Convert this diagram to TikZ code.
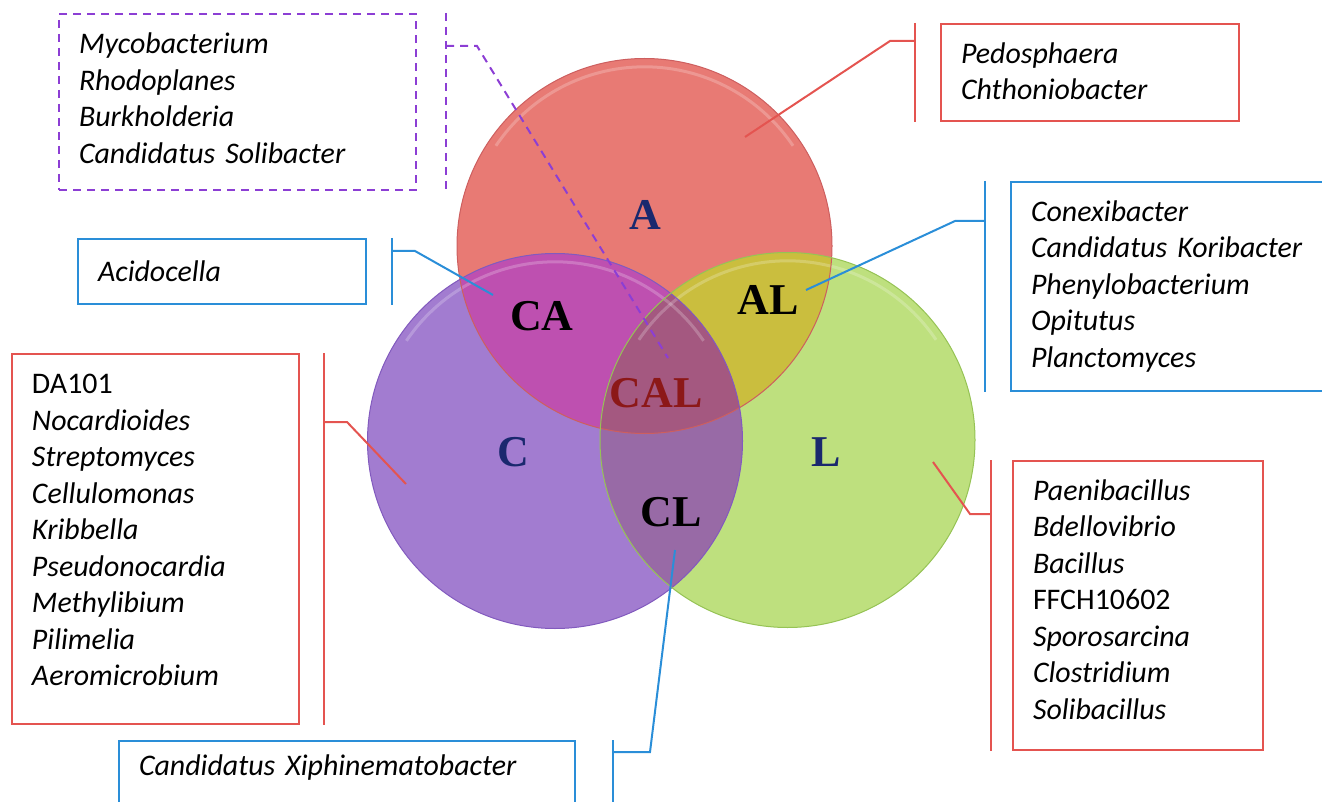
\documentclass[tikz,border=0pt]{standalone}
\usepackage{fontspec}
\setmainfont{Carlito}
\newfontfamily\vennfont{Liberation Serif}
\usetikzlibrary{calc}
\newcommand\lowpad[1]{\rule[-#1]{0pt}{0pt}}
\DeclareRobustCommand\boxfont{\itshape\fontsize{14.95}{18.25}\selectfont\spaceskip=3.6pt\relax}
\definecolor{colA}{RGB}{232,122,116}
\definecolor{colC}{RGB}{162,124,208}
\definecolor{colL}{RGB}{190,224,126}
\definecolor{colCA}{RGB}{190,80,176}
\definecolor{colAL}{RGB}{202,190,62}
\definecolor{colCL}{RGB}{152,106,166}
\definecolor{colCAL}{RGB}{164,88,128}
\definecolor{edgeA}{RGB}{205,95,95}
\definecolor{edgeC}{RGB}{130,90,190}
\definecolor{edgeL}{RGB}{150,195,85}
\definecolor{lnRed}{RGB}{228,84,80}
\definecolor{lnBlue}{RGB}{42,142,216}
\definecolor{lnPurple}{RGB}{140,62,212}
\definecolor{labNavy}{RGB}{26,40,110}
\definecolor{labRed}{RGB}{140,24,24}
\begin{document}
\begin{tikzpicture}[x=0.5pt,y=-0.5pt,
  box/.style={line width=1pt, anchor=north west, align=left, inner xsep=10pt, inner ysep=0pt,
    font=\boxfont},
  redbox/.style={box, draw=lnRed},
  bluebox/.style={box, draw=lnBlue},
  purplebox/.style={box, draw=lnPurple, dash pattern=on 4pt off 3pt},
  redline/.style={draw=lnRed, line width=1pt},
  blueline/.style={draw=lnBlue, line width=1pt},
  purpleline/.style={draw=lnPurple, line width=1pt, dash pattern=on 4pt off 3pt},
  vlab/.style={font=\vennfont\bfseries\fontsize{22}{22}\selectfont, inner sep=0pt},
  rim/.style={white, line width=1.5pt, opacity=0.22}]
\useasboundingbox (0,0) rectangle (1322,802);
\def\R{93.75pt}
% circle centres
\coordinate (oA) at (644.5,246);
\coordinate (oC) at (555,441);
\coordinate (oL) at (787.5,440);
% base fills
\fill[colA] (oA) circle[radius=\R];
\fill[colC] (oC) circle[radius=\R];
\fill[colL] (oL) circle[radius=\R];
\begin{scope}
  \clip (oA) circle[radius=\R];
  \fill[colCA] (oC) circle[radius=\R];
  \fill[colAL] (oL) circle[radius=\R];
\end{scope}
\begin{scope}
  \clip (oC) circle[radius=\R];
  \fill[colCL] (oL) circle[radius=\R];
\end{scope}
\begin{scope}
  \clip (oA) circle[radius=\R];
  \clip (oC) circle[radius=\R];
  \fill[colCAL] (oL) circle[radius=\R];
\end{scope}
% rims
\draw[rim] ($(oA)+(-148.6,-100.2)$) arc[start angle=146, end angle=34, radius=89.6pt];
\draw[rim] ($(oC)+(-148.6,-100.2)$) arc[start angle=146, end angle=34, radius=89.6pt];
\draw[rim] ($(oL)+(-148.6,-100.2)$) arc[start angle=146, end angle=34, radius=89.6pt];
% edges
\draw[edgeA, line width=0.5pt] (oA) circle[radius=\R];
\draw[edgeC, line width=0.5pt] (oC) circle[radius=\R];
\draw[edgeL, line width=0.5pt] (oL) circle[radius=\R];
% region labels
\node[vlab, text=labNavy] (lA) at (645,215) {A};
\node[vlab, text=labNavy] (lC) at (513,452) {C};
\node[vlab, text=labNavy] (lL) at (826,452) {L};
\node[vlab] (lCA) at (542,316) {CA};
\node[vlab] (lAL) at (768,300) {AL};
\node[vlab] (lCL) at (671,512) {CL};
\node[vlab, text=labRed] (lCAL) at (656,393) {CAL};
% end points of connectors
\coordinate (eCAL) at (668,358);
\coordinate (eA) at (745,137);
\coordinate (eCA) at (493,295);
\coordinate (eAL) at (806,290);
\coordinate (eC) at (406,484);
\coordinate (eL) at (933,462);
\coordinate (eCL) at (675,550);
% boxes
\node[purplebox, text width=158.5pt, minimum height=88pt] (b1) at (58,13)
  {Mycobacterium\\Rhodoplanes\\Burkholderia\\Candidatus Solibacter\lowpad{4pt}};
\node[redbox, text width=129pt, minimum height=48.5pt] (b2) at (940,23)
  {Pedosphaera\\Chthoniobacter\lowpad{1.5pt}};
\node[bluebox, text width=124pt, minimum height=32.5pt] (b3) at (77,238)
  {Acidocella};
\node[bluebox, text width=145pt, minimum height=104.5pt] (b4) at (1010,181)
  {Conexibacter\\Candidatus Koribacter\\Phenylobacterium\\Opitutus\\Planctomyces};
\node[redbox, text width=123.5pt, minimum height=185pt] (b5) at (11,353)
  {{\upshape DA101}\\Nocardioides\\Streptomyces\\Cellulomonas\\Kribbella\\Pseudonocardia\\Methylibium\\Pilimelia\\Aeromicrobium\lowpad{9pt}};
\node[redbox, text width=105pt, minimum height=144.5pt] (b6) at (1012,460)
  {Paenibacillus\\Bdellovibrio\\Bacillus\\{\upshape FFCH10602}\\Sporosarcina\\Clostridium\\Solibacillus\lowpad{6pt}};
\node[bluebox, text width=208pt, inner ysep=7pt, text depth=30pt] (b7) at (118,740)
  {Candidatus Xiphinematobacter};
% connectors
\draw[purpleline] ($(b1.north east)+(29,0)$) -- ($(b1.south east)+(29,0)$);
\draw[purpleline] ($(b1.north east)+(29,33)$) -- ++(31,0) -- (eCAL);
\draw[redline] ($(b2.north west)+(-25,0)$) -- ($(b2.south west)+(-25,0)$);
\draw[redline] ($(b2.north west)+(-25,18)$) -- ++(-25,0) -- (eA);
\draw[blueline] ($(b3.north east)+(25,0)$) -- ($(b3.south east)+(25,0)$);
\draw[blueline] ($(b3.north east)+(25,13)$) -- ++(23,0) -- (eCA);
\draw[blueline] ($(b4.north west)+(-25,0)$) -- ($(b4.south west)+(-25,0)$);
\draw[blueline] ($(b4.north west)+(-25,40)$) -- ++(-30,0) -- (eAL);
\draw[redline] ($(b5.north east)+(24,0)$) -- ($(b5.south east)+(24,0)$);
\draw[redline] ($(b5.north east)+(24,69)$) -- ++(23,0) -- (eC);
\draw[redline] ($(b6.north west)+(-21,0)$) -- ($(b6.south west)+(-21,0)$);
\draw[redline] ($(b6.north west)+(-21,54)$) -- ++(-21,0) -- (eL);
\draw[blueline] ($(b7.north east)+(37,0)$) -- ($(b7.south east)+(37,0)$);
\draw[blueline] ($(b7.north east)+(37,12)$) -- ++(37,0) -- (eCL);
\end{tikzpicture}
\end{document}
